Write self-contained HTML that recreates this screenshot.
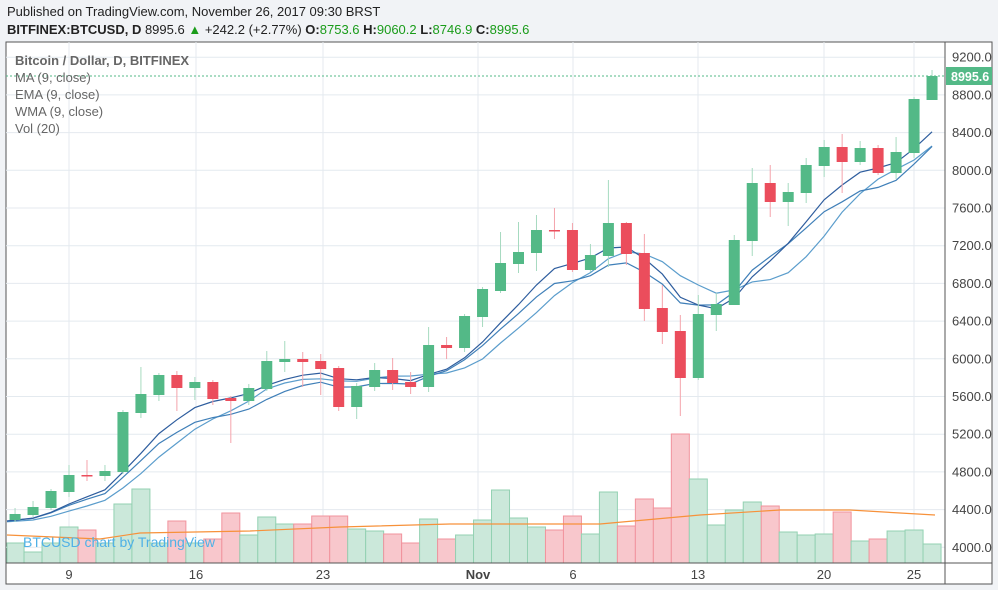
<!DOCTYPE html>
<html><head><meta charset="utf-8"><style>
body{margin:0;width:998px;height:590px;background:#f1f3f6;overflow:hidden;font-family:"Liberation Sans",sans-serif}
svg{position:absolute;left:0;top:0}
</style></head><body>
<svg id="s" width="998" height="590" xmlns="http://www.w3.org/2000/svg" font-family="Liberation Sans, sans-serif">
<rect x="6" y="42" width="986" height="542" fill="#fff" stroke="#555" stroke-width="1"/>
<g id="grid" stroke="#e4eaef" stroke-width="1"></g>
<g id="vol"></g>
<polyline id="vma" fill="none" stroke="#f7913a" stroke-width="1.2"/>
<text x="23" y="547" font-size="14" fill="#4fb1e6">BTCUSD chart by TradingView</text>
<g id="lines"></g>
<g id="cand"></g>
<line x1="6" y1="76" x2="945" y2="76" stroke="#53b987" stroke-dasharray="2,2"/>
<line x1="945" y1="42" x2="945" y2="584" stroke="#555"/>
<line x1="6" y1="563" x2="992" y2="563" stroke="#555"/>
<g id="ax" font-size="13" fill="#444"></g>
<rect x="946" y="67" width="46" height="18" fill="#53b987"/>
<text x="951" y="81" font-size="12.5" font-weight="bold" fill="#fff">8995.6</text>
<text x="7" y="16" font-size="13" fill="#222">Published on TradingView.com, November 26, 2017 09:30 BRST</text>
<text x="7" y="34" font-size="13" fill="#222"><tspan font-weight="bold">BITFINEX:BTCUSD, D</tspan> 8995.6 <tspan fill="#1a9c1a">▲</tspan> +242.2 (+2.77%) <tspan font-weight="bold">O:</tspan><tspan fill="#1a9c1a">8753.6</tspan> <tspan font-weight="bold">H:</tspan><tspan fill="#1a9c1a">9060.2</tspan> <tspan font-weight="bold">L:</tspan><tspan fill="#1a9c1a">8746.9</tspan> <tspan font-weight="bold">C:</tspan><tspan fill="#1a9c1a">8995.6</tspan></text>
<g font-size="13" fill="#666">
<text x="15" y="65" font-weight="bold">Bitcoin / Dollar, D, BITFINEX</text>
<text x="15" y="82">MA (9, close)</text>
<text x="15" y="99">EMA (9, close)</text>
<text x="15" y="116">WMA (9, close)</text>
<text x="15" y="133">Vol (20)</text>
</g>
</svg>
<script>
var NS="http://www.w3.org/2000/svg";
function el(p,t,a){var e=document.createElementNS(NS,t);for(var k in a)e.setAttribute(k,a[k]);document.getElementById(p).appendChild(e);return e;}
var X=function(i){return 15.06+17.98*i;};
var px=[69,196,323,478,573,698,824,914];
px.forEach(function(x){el("grid","line",{x1:x,y1:42,x2:x,y2:563});});
for(var k=0;k<=13;k++){var y=547.3-k*37.7;el("grid","line",{x1:6,y1:y,x2:945,y2:y});
 var t=el("ax","text",{x:952,y:y+4.5});t.textContent=(4000+400*k).toFixed(1);}
var lb=["9","16","23","Nov","6","13","20","25"];
px.forEach(function(x,i){var t=el("ax","text",{x:x,y:579,"text-anchor":"middle","font-weight":i==3?"bold":"normal"});t.textContent=lb[i];});
var C=[[520,514,508,522],[515,507,501,517],[508,491,489,510],[492,475,465,497],[475,475,460,481],[476,471,465,481],[472,412,410,474],[413,394,367,418],[395,375,373,401],[375,388,371,411],[388,382,377,400],[382,399,380,405],[398,401,396,443],[401,388,384,405],[389,361,351,391],[362,359,341,372],[359,362,352,387],[361,369,354,395],[368,407,366,411],[407,386,383,419],[387,370,363,391],[370,383,358,390],[382,387,372,394],[387,345,327,392],[345,348,337,359],[348,316,314,352],[317,289,287,327],[291,263,232,293],[264,252,222,273],[253,230,215,271],[230,230,208,239],[230,270,223,272],[270,255,244,272],[256,223,180,267],[223,254,222,265],[253,309,234,321],[308,332,285,344],[331,378,315,416],[378,314,295,380],[315,304,293,331],[305,240,235,305],[241,183,168,256],[183,202,165,217],[202,192,183,226],[193,165,158,203],[166,147,140,177],[147,162,134,193],[162,148,141,165],[148,173,145,175],[173,152,137,179],[153,99,97,158],[100,76,70,100]];
var V=[[543,1],[552,1],[543,1],[527,1],[530,0],[543,1],[504,1],[489,1],[543,1],[521,0],[543,1],[539,0],[513,0],[535,1],[517,1],[524,1],[524,0],[516,0],[516,0],[529,1],[531,1],[534,0],[543,0],[519,1],[539,0],[535,1],[520,1],[490,1],[518,1],[527,1],[530,0],[516,0],[534,1],[492,1],[526,0],[499,0],[508,0],[434,0],[479,1],[525,1],[510,1],[502,1],[506,0],[532,1],[535,1],[534,1],[512,0],[541,1],[539,0],[531,1],[530,1],[544,1]];
V.forEach(function(v,i){var x=X(i)-9;el("vol","rect",{x:Math.max(7,x),y:v[0],width:18-(x<7?7-x:0),height:563-v[0],fill:v[1]?"#cbe8da":"#f8c7cc",stroke:v[1]?"#93d1b2":"#f1939d","stroke-width":1});});
document.getElementById("vma").setAttribute("points","7,535 100,539 140,533 250,531 340,527 450,524 600,524 700,515 780,510 850,510 900,513 935,515");
var cl=C.map(function(c){return c[1];});
var pre=[523,524,522,521,522,523,524,523];cl=pre.concat(cl);var off=pre.length;
function ptsFrom(arr){var s=[];for(var i=0;i<C.length;i++)s.push((i==0?7:X(i))+","+arr[i+off].toFixed(1));return s.join(" ");}
var ma=[],ema=[],wma=[],e=cl[0];
for(var i=0;i<cl.length;i++){var lo=Math.max(0,i-8),s=0,n=0,ws=0,wn=0;for(var j=lo;j<=i;j++){s+=cl[j];n++;var w=j-lo+1;ws+=cl[j]*w;wn+=w;}ma.push(s/n);wma.push(ws/wn);e=e+0.2*(cl[i]-e);ema.push(e);}
el("lines","polyline",{points:ptsFrom(ma),fill:"none",stroke:"#5b9dcc","stroke-width":1.2});
el("lines","polyline",{points:ptsFrom(ema),fill:"none",stroke:"#3f7fb8","stroke-width":1.2});
el("lines","polyline",{points:ptsFrom(wma),fill:"none",stroke:"#2e5d9e","stroke-width":1.2});
C.forEach(function(c,i){var x=X(i),g=c[1]<=c[0]&&!(i==4||i==30||i==24||i==12);var col=g?"#53b987":"#eb4d5c";
 el("cand","line",{x1:x,y1:c[2],x2:x,y2:c[3],stroke:g?"#a6dac0":"#f4a3ab","stroke-width":1});
 var t=Math.min(c[0],c[1]),h=Math.max(1.5,Math.abs(c[0]-c[1]));
 el("cand","rect",{x:x-5.5,y:t,width:11,height:h,fill:col});});
</script>
</body></html>
